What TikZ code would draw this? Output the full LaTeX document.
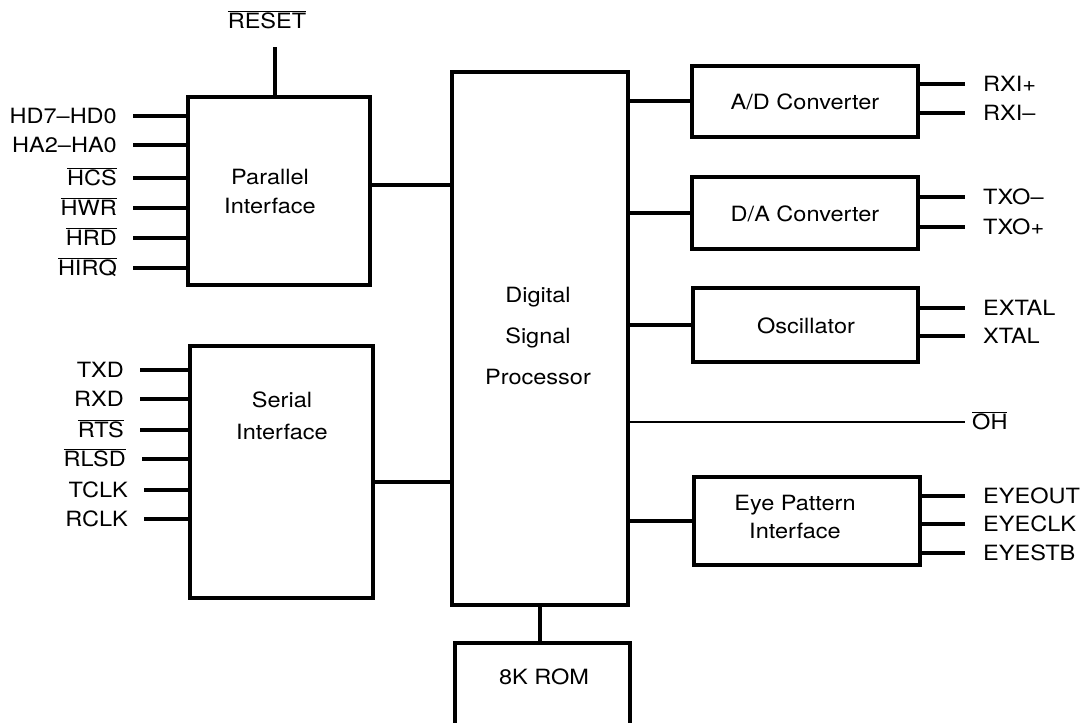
\documentclass[tikz,border=0pt]{standalone}
\usepackage{fontspec}
\setmainfont{TeX Gyre Heros}[FakeStretch=1.12]
\newcommand\ovl[1]{$\overline{\mbox{#1}}$}
\begin{document}
\begin{tikzpicture}[x=1pt,y=-1pt,
  box/.style={draw, line width=3.2pt, inner sep=0pt, outer sep=0pt},
  wire/.style={line width=3.2pt},
  thinwire/.style={line width=1.5pt},
  lab/.style={inner sep=0pt, font=\fontsize{21}{29}\selectfont}]
\useasboundingbox (0,0) rectangle (1080,723);
\clip (0,0) rectangle (1080,723);
% boxes
\node[box, minimum width=182pt, minimum height=188pt] (par) at (279,191) {};
\node[lab, align=center] (parT) at (270,192) {Parallel\\Interface};
\node[box, minimum width=183pt, minimum height=252pt] (ser) at (281.5,472) {};
\node[lab, align=center, font=\fontsize{21}{32}\selectfont] (serT) at (282,416) {Serial\\Interface};
\node[box, minimum width=176pt, minimum height=533pt] (dsp) at (540,338.5) {};
\node[lab, align=center, font=\fontsize{21}{41}\selectfont] (dspT) at (538,336) {Digital\\Signal\\Processor};
\node[box, minimum width=226pt, minimum height=71pt] (ad) at (805,101.5) {};
\node[lab] (adT) at (805,102) {A/D Converter};
\node[box, minimum width=226pt, minimum height=72pt] (da) at (805,213) {};
\node[lab] (daT) at (805,214) {D/A Converter};
\node[box, minimum width=225pt, minimum height=74pt] (osc) at (805.5,325) {};
\node[lab] (oscT) at (806,326) {Oscillator};
\node[box, minimum width=226pt, minimum height=88pt] (eye) at (807,521) {};
\node[lab, align=center, font=\fontsize{21}{28}\selectfont] (eyeT) at (795,517) {Eye Pattern\\Interface};
\node[box, minimum width=175pt, minimum height=110pt] (rom) at (542.5,698) {};
\node[lab] (romT) at (544,677) {8K ROM};
% internal connections
\draw[wire] (par.east |- 0,185) -- (dsp.west |- 0,185);
\draw[wire] (ser.east |- 0,482) -- (dsp.west |- 0,482);
\draw[wire] (dsp.east |- 0,101) -- (ad.west |- 0,101);
\draw[wire] (da.west -| dsp.east) -- (da.west);
\draw[wire] (osc.west -| dsp.east) -- (osc.west);
\draw[wire] (eye.west -| dsp.east) -- (eye.west);
\draw[wire] (dsp.south) -- (dsp.south |- rom.north);
% reset
\coordinate (rst) at (275,47);
\draw[wire] (rst) -- (rst |- par.north);
\node[lab, anchor=base] (rstl) at (267,28) {\ovl{RESET}};
% parallel pins
\foreach \y/\t in {116/{HD7--HD0},145/{HA2--HA0},178/{\ovl{HCS}},208/{\ovl{HWR}},238/{\ovl{HRD}},268/{\ovl{HIRQ}}}{
  \coordinate (pp\y) at (133,\y);
  \draw[wire] (pp\y) -- (pp\y -| par.west);
  \node[lab, anchor=base east] (ppl\y) at ([shift={(-16pt,-7pt)}]pp\y) {\t};
}
% serial pins
\foreach \x/\y/\t in {140/370/{TXD},140/399/{RXD},140/430/{\ovl{RTS}},142/459/{\ovl{RLSD}},144/490/{TCLK},144/519/{RCLK}}{
  \coordinate (sp\y) at (\x,\y);
  \draw[wire] (sp\y) -- (sp\y -| ser.west);
  \node[lab, anchor=base east] (spl\y) at ([shift={(-16pt,-7pt)}]sp\y) {\t};
}
% right pins
\foreach \n/\y/\t in {ad/84/{RXI+},ad/113/{RXI--},da/197/{TXO--},da/227/{TXO+},osc/308/{EXTAL},osc/336/{XTAL},eye/496/{EYEOUT},eye/524/{EYECLK},eye/553/{EYESTB}}{
  \coordinate (q\y) at (965,\y);
  \draw[wire] (q\y -| \n.east) -- (q\y);
  \node[lab, anchor=base west] (ql\y) at ([shift={(18pt,-7pt)}]q\y) {\t};
}
% OH
\coordinate (oh) at (965,422);
\draw[thinwire] (oh -| dsp.east) -- (oh);
\node[lab, anchor=base west] (ohl) at ([shift={(7pt,-7pt)}]oh) {\ovl{OH}};
\end{tikzpicture}
\end{document}
